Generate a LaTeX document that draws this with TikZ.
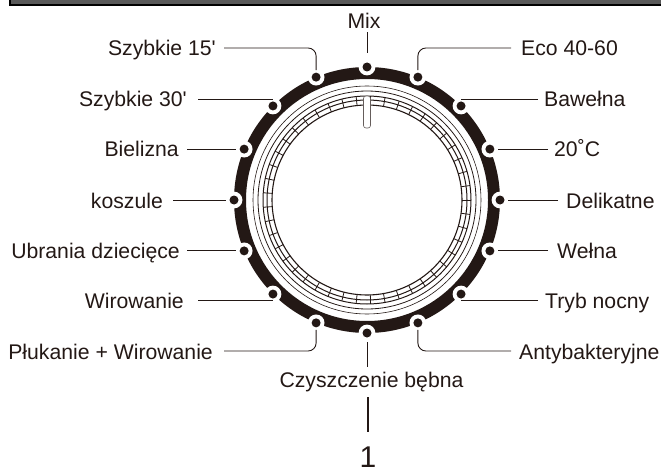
\documentclass[tikz,border=0pt]{standalone}
\usepackage{fontspec}
\newfontfamily\labelfont{Liberation Sans}
\definecolor{ink}{HTML}{231815}

\begin{document}
\begin{tikzpicture}[x=1pt,y=-1pt,line cap=butt,line join=round,
    every node/.style={inner sep=0pt},
    prog/.style={text=ink,font=\labelfont\fontsize{21.2}{24}\selectfont,text height=16pt,text depth=0pt},
    lead/.style={draw=ink,line width=0.9pt},
    knob/.style={circle,fill=ink,minimum size=9pt}]
  \useasboundingbox (0,0) rectangle (661,468);
  % top bar
  \fill[black] (9,0) rectangle (661,6);
  \fill[black!65] (11,0) rectangle (661,4);
  % dial
  \begin{scope}[shift={(367,200)}]
    \fill[ink,even odd rule] (0,0) circle[radius=133] (0,0) circle[radius=121];
    \draw[ink,line width=0.6pt] (0,0) circle[radius=114];
    \draw[ink,line width=0.8pt] (0,0) circle[radius=109];
    \draw[ink,line width=1pt] (0,0) circle[radius=104];
    \draw[ink,line width=1pt] (0,0) circle[radius=100];
    \draw[ink,line width=1.1pt] (0,0) circle[radius=95];
    \foreach \a in {0,8,...,352} {
      \draw[ink,line width=0.8pt] (\a:95) -- (\a:104);
    }
    \draw[ink!70,line width=0.6pt,fill=white,rounded corners=2.5] (-3.5,-104) rectangle (3.5,-72);
    \foreach \i in {0,...,15} {
      \fill[white] ({22.5*\i-90}:133) circle[radius=8.4];
      \node[knob] (d\i) at ({22.5*\i-90}:133) {};
    }
  \end{scope}
  % labels, clockwise from the top
  \node[prog] (mix) at (364,21) {Mix};
  \node[prog,anchor=west] (eco) at (521,48) {Eco 40-60};
  \node[prog,anchor=west] (bawelna) at (544,99) {Bawełna};
  \node[prog,anchor=west] (temp) at (554,149) {20˚C};
  \node[prog,anchor=west] (delikatne) at (566,200) {Delikatne};
  \node[prog,anchor=west] (welna) at (557,250) {Wełna};
  \node[prog,anchor=west] (nocny) at (545,300) {Tryb nocny};
  \node[prog,anchor=west] (anty) at (519,351) {Antybakteryjne};
  \node[prog] (beben) at (371.5,379) {Czyszczenie bębna};
  \node[prog,anchor=east] (plukanie) at (213,351) {Płukanie + Wirowanie};
  \node[prog,anchor=east] (wirowanie) at (184,300) {Wirowanie};
  \node[prog,anchor=east] (ubrania) at (180,250) {Ubrania dziecięce};
  \node[prog,anchor=east] (koszule) at (163,200) {koszule};
  \node[prog,anchor=east] (bielizna) at (179,149) {Bielizna};
  \node[prog,anchor=east] (szybkiea) at (187,99) {Szybkie 30'};
  \node[prog,anchor=east] (szybkieb) at (216,48) {Szybkie 15'};
  \node[anchor=base,text=ink,font=\labelfont\fontsize{30}{34}\selectfont] (one) at (368,467) {1};
  % connectors
  \draw[lead,shorten <=3pt,shorten >=9pt] (mix.south -| d0) -- (d0);
  \draw[lead,rounded corners=8,shorten <=10pt,shorten >=7pt] (eco.west) -| (d1.center);
  \draw[lead,shorten <=6pt] (bawelna.west) -- (bawelna.west -| d2);
  \draw[lead,shorten <=6pt,shorten >=8pt] (temp.west) -- (temp.west -| d3);
  \draw[lead,shorten <=8pt,shorten >=8pt] (delikatne.west) -- (delikatne.west -| d4);
  \draw[lead,shorten <=9pt,shorten >=8pt] (welna.west) -- (welna.west -| d5);
  \draw[lead,shorten <=7pt] (nocny.west) -- (nocny.west -| d6);
  \draw[lead,rounded corners=8,shorten <=8pt,shorten >=7pt] (anty.west) -| (d7.center);
  \draw[lead,shorten <=4pt,shorten >=9pt] (beben.north -| d8) -- (d8.center);
  \draw[lead,rounded corners=8,shorten <=11pt,shorten >=7pt] (plukanie.east) -| (d9.center);
  \draw[lead,shorten <=14pt] (wirowanie.east) -- (wirowanie.east -| d10);
  \draw[lead,shorten <=7pt,shorten >=8pt] (ubrania.east) -- (ubrania.east -| d11);
  \draw[lead,shorten <=10pt,shorten >=8pt] (koszule.east) -- (koszule.east -| d12);
  \draw[lead,shorten <=8pt,shorten >=8pt] (bielizna.east) -- (bielizna.east -| d13);
  \draw[lead,shorten <=11pt] (szybkiea.east) -- (szybkiea.east -| d14);
  \draw[lead,rounded corners=8,shorten <=8pt,shorten >=7pt] (szybkieb.east) -| (d15.center);
  \draw[ink,line width=2.2pt,shorten <=10pt,shorten >=14pt] (beben.south -| one) -- (one.north);
\end{tikzpicture}
\end{document}
